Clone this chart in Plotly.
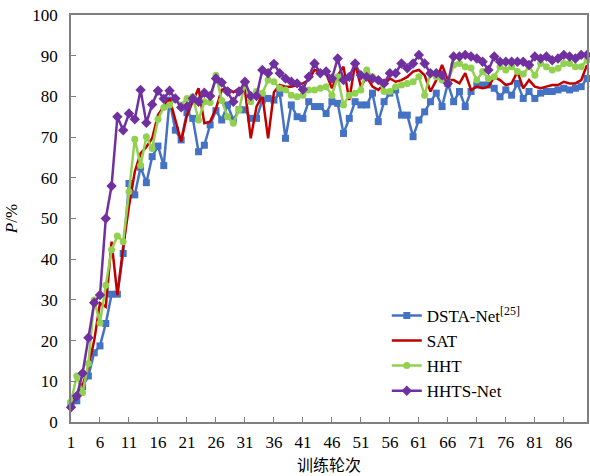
import plotly.graph_objects as go

epochs = list(range(1, 91))

dsta_net = [4.5, 5.2, 8.7, 11.3, 17, 18.7, 24.2, 31.4, 31.4, 41.4,
            58.6, 55.8, 62.6, 58.8, 65.2, 67.8, 63, 79.1, 71.7, 69.3,
            76, 74.6, 66.4, 68, 73, 76.5, 74.2, 77.9, 74.2, 76.7,
            76.7, 74.6, 74.6, 79.1, 79.5, 79.1, 80.8, 69.7, 77.9, 75,
            74.6, 78.7, 77.5, 77.5, 75.8, 78.7, 78.3, 70.9, 74.6, 78.7,
            77.9, 77.9, 80.8, 73.8, 78.7, 80.8, 81.6, 75.4, 75.4, 70.1,
            74.2, 76.2, 78.7, 80.8, 77.5, 83.2, 78.7, 81.2, 77.5, 81.2,
            82.8, 82.8, 82.8, 82, 79.9, 81.6, 80.3, 83.2, 79.5, 81.2,
            79.5, 80.8, 81.2, 81.2, 81.6, 82, 81.6, 82, 82.4, 84.4]

sat = [4, 7, 9, 13.6, 20, 29.2, 28.3, 44.3, 31.2, 43,
       53, 61.5, 66, 67.6, 69.7, 75.4, 77.5, 79.5, 74.2, 68.9,
       75.4, 78.7, 82, 73.4, 73.8, 77, 81.6, 82, 81, 82,
       81.6, 69.7, 77.5, 80.3, 69.7, 81, 82.8, 82.4, 82.4, 82.8,
       83.2, 84, 86.5, 86.1, 85.7, 82, 85.2, 87.3, 79.1, 88.1,
       82.4, 84.8, 82.4, 81.6, 83, 84.4, 83.6, 84, 84.8, 86.1,
       86.5, 85.2, 81.2, 84, 87.7, 84, 84, 83.2, 85.7, 81.6,
       82.4, 82, 82.4, 84.8, 84, 82.8, 83.2, 86.1, 82, 84,
       82.4, 82, 82.4, 82.8, 82.8, 83.6, 83.2, 83.2, 84, 87.7]

hht = [5, 11.3, 7.2, 14.4, 30, 24.3, 33.6, 42.3, 45.7, 44.3,
       56.6, 69.5, 63, 70.1, 67.2, 74.4, 77.3, 77.9, 79.3, 77.9,
       79.5, 79.9, 74.2, 78.7, 78.5, 85.2, 79, 75, 73.4, 76.7,
       83.2, 78.7, 81.2, 80.8, 84, 83.6, 82, 81.6, 80.3, 79.9,
       80.3, 81.6, 81.6, 82, 82.4, 80.3, 84.8, 77.9, 80.3, 80.8,
       81.6, 86.5, 84.8, 84, 81.2, 81.2, 82.4, 82.8, 83.2, 83.6,
       84.8, 80.3, 85.7, 84.8, 84, 83.5, 87.7, 88.1, 87.3, 87,
       84, 86.1, 84.4, 84.8, 87.3, 86.5, 87.3, 86.1, 85.5, 87.3,
       85.2, 88.1, 87.3, 86.5, 86.9, 88.1, 88.1, 87.3, 87.3, 88.9]

hhts_net = [3.6, 6.4, 12, 20.7, 29.3, 31.2, 50, 58, 75, 71.7,
            75.8, 74.4, 81.6, 73.5, 78, 81.4, 79.4, 81.4, 79.5, 77.3,
            77.5, 79.5, 78.7, 80.9, 80.1, 84.4, 83.4, 81.2, 78.7, 81.2,
            83.6, 80.1, 80.1, 86.5, 85.7, 88, 85.7, 84.4, 83.6, 83.2,
            81.7, 84.8, 88.1, 85.7, 86.1, 84.4, 89.3, 84, 84.8, 88.1,
            85.2, 84.8, 84.4, 84, 83.2, 85.7, 85.7, 88.1, 86.9, 88.1,
            90.2, 88.1, 85.7, 85.7, 85.2, 83.2, 89.8, 89.8, 90.2, 89.8,
            89.3, 88.5, 86.5, 89.8, 88.5, 88.5, 88.5, 88.5, 88.5, 87.7,
            89.8, 89.3, 89.8, 88.9, 89.3, 90.2, 89.8, 89.3, 90.2, 90.2]

x_ticks = list(range(1, 90, 5))
y_ticks = list(range(0, 101, 10))

fig = go.Figure()
fig.add_trace(go.Scatter(x=epochs, y=dsta_net, mode="lines+markers",
                         name="DSTA-Net<sup>[25]</sup>",
                         line=dict(color="#4472C4", width=2.5),
                         marker=dict(symbol="square", size=7, color="#4472C4"),
                         cliponaxis=False))
fig.add_trace(go.Scatter(x=epochs, y=sat, mode="lines", name="SAT",
                         line=dict(color="#C00000", width=2.5),
                         cliponaxis=False))
fig.add_trace(go.Scatter(x=epochs, y=hht, mode="lines+markers", name="HHT",
                         line=dict(color="#92D050", width=2.5),
                         marker=dict(symbol="circle", size=7, color="#92D050"),
                         cliponaxis=False))
fig.add_trace(go.Scatter(x=epochs, y=hhts_net, mode="lines+markers", name="HHTS-Net",
                         line=dict(color="#7030A0", width=2.5),
                         marker=dict(symbol="diamond", size=8, color="#7030A0"),
                         cliponaxis=False))

axis_common = dict(showgrid=False, zeroline=False, showline=True, linecolor="#808080",
                   linewidth=1.5, mirror=True, ticks="inside", ticklen=5,
                   tickcolor="#808080", tickfont=dict(family="Liberation Serif", size=17, color="#000"))

fig.update_xaxes(range=[1, 90], tickvals=x_ticks, ticklabelstandoff=4, **axis_common,
                 title=dict(text="训练轮次", font=dict(family="Noto Sans CJK SC", size=16, color="#000"),
                            standoff=12))
fig.update_yaxes(range=[0, 100], tickvals=y_ticks, ticklabelstandoff=8, **axis_common,
                 title=dict(text="<i>P</i>/%", font=dict(family="Liberation Serif", size=17, color="#000"),
                            standoff=10))

fig.update_layout(
    width=590, height=476,
    margin=dict(l=71, r=1, t=15, b=54),
    plot_bgcolor="white", paper_bgcolor="white",
    legend=dict(x=0.612, y=0.305, xanchor="left", yanchor="top",
                bgcolor="rgba(0,0,0,0)",
                font=dict(family="Liberation Serif", size=17, color="#000"),
                tracegroupgap=0, itemwidth=30),
)

fig.write_html("out.html")
